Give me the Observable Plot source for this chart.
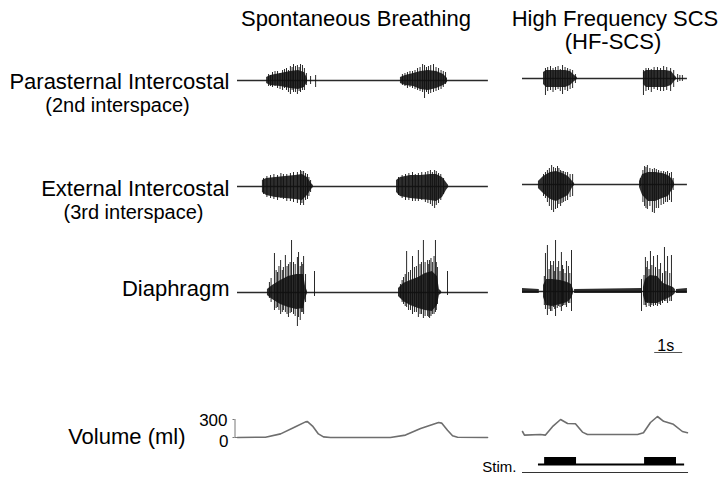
<!DOCTYPE html>
<html><head><meta charset="utf-8">
<script src="https://cdn.jsdelivr.net/npm/d3@7"></script>
<script src="https://cdn.jsdelivr.net/npm/@observablehq/plot@0.6"></script>
<style>html,body{margin:0;padding:0;background:#fff}#chart svg{display:block}</style>
</head><body><div id="chart"></div>
<script>
// ---------------- DATA ----------------
const muscles = ["Parasternal Intercostal", "External Intercostal", "Diaphragm"];
const muscleSub = ["(2nd interspace)", "(3rd interspace)"];
const conditions = ["Spontaneous Breathing", "High Frequency SCS"];
const conditionSub = "(HF-SCS)";
const volumeLabel = "Volume (ml)";
const volumeTicks = [0, 300];
const stimLabel = "Stim.";
const scaleBarLabel = "1s";
const scaleBarSeconds = 1;
const panelDuration = [8.96, 5.89]; // seconds of recording shown in each panel

// EMG burst envelopes (dense core): per burst, [time s, upper a.u., lower a.u.]
const paraSpontEnv = [
  [[1.04,3,3],[1.18,5,5],[1.54,7,6],[1.89,9,8],[2.18,10,9],[2.39,8,7],[2.5,2,2]],
  [[5.82,3,3],[6.0,5,5],[6.29,7,6],[6.54,9,9],[6.82,10,10],[7.11,9,8],[7.36,6,5],[7.5,2,2]]
];
const paraHfEnv = [
  [[0.75,6,6],[0.86,8,9],[1.18,8,9],[1.54,8,9],[1.71,7,7],[1.86,3,3],[1.96,1,1]],
  [[4.32,6,6],[4.43,8,9],[4.75,8,9],[5.11,8,9],[5.32,7,7],[5.43,3,3],[5.5,1,1]]
];
const extSpontEnv = [
  [[0.89,6,6],[1.04,8,9],[1.36,9,11],[1.71,10,12],[2.07,11,13],[2.32,12,14],[2.5,9,9],[2.64,3,3],[2.71,1,1]],
  [[5.68,6,6],[5.82,9,10],[6.18,11,12],[6.54,11,13],[6.89,12,14],[7.11,12,15],[7.32,9,11],[7.46,4,4],[7.54,1,1]]
];
const extHfEnv = [
  [[0.57,3,4],[0.75,8,9],[1.0,12,15],[1.21,13,17],[1.43,11,14],[1.64,8,11],[1.79,3,3],[1.86,1,1]],
  [[4.18,3,3],[4.29,10,11],[4.5,12,17],[4.75,12,17],[5.0,11,14],[5.21,9,12],[5.36,5,5],[5.43,1,1]]
];
const diaSpontEnv = [
  [[1.07,3,3],[1.25,7,7],[1.54,12,12],[1.82,16,15],[2.11,18,17],[2.36,18,16],[2.43,6,6],[2.5,1,1]],
  [[5.75,4,4],[5.93,9,9],[6.18,12,13],[6.46,15,16],[6.71,19,18],[6.96,21,19],[7.14,16,13],[7.21,3,3],[7.29,1,1]]
];
const diaHfEnv = [
  [[0,3,2],[0.6,2,2]],
  [[0.75,6,6],[0.86,12,14],[1.07,12,15],[1.36,11,13],[1.61,9,11],[1.75,7,7],[1.82,2,2]],
  [[1.86,2,2],[4.28,3,2]],
  [[4.32,4,4],[4.39,12,11],[4.57,16,12],[4.82,15,12],[5.04,8,9],[5.21,6,7],[5.39,4,4],[5.46,2,2]],
  [[5.5,2,2],[5.89,3,2]]
];

// EMG individual spikes: [time s, upper a.u., lower a.u.]
const paraSpontSpikes = [[1.11,6,6],[1.18,5,6],[1.25,8,7],[1.34,9,6],[1.43,9,8],[1.52,7,9],[1.61,10,10],[1.68,11,8],[1.75,12,10],[1.82,10,12],[1.89,14,14],[1.95,13,10],[2.0,16,12],[2.07,14,12],[2.14,15,14],[2.2,13,11],[2.25,16,12],[2.32,15,10],[2.39,12,10],[2.46,7,5],[2.61,4,4],[2.79,5,7],
  [5.89,6,5],[5.98,7,6],[6.07,8,8],[6.16,9,7],[6.25,9,8],[6.34,10,9],[6.43,12,10],[6.52,13,11],[6.61,16,12],[6.68,15,18],[6.75,13,12],[6.82,14,14],[6.9,15,13],[7.0,16,12],[7.09,13,11],[7.18,12,10],[7.27,10,9],[7.35,9,7],[7.43,8,4]];
const paraHfSpikes = [[0.82,10,17],[0.9,11,13],[1.0,12,12],[1.09,10,14],[1.18,11,12],[1.27,12,11],[1.35,9,13],[1.43,13,16],[1.52,11,12],[1.61,10,13],[1.7,9,11],[1.79,8,10],[1.89,4,5],
  [4.32,8,17],[4.41,10,13],[4.5,10,12],[4.6,9,14],[4.7,11,11],[4.82,11,12],[4.93,10,13],[5.04,12,13],[5.15,11,12],[5.29,10,13],[5.4,8,9],[5.54,4,4],[5.62,3,3],[5.71,3,3]];
const extSpontSpikes = [[0.93,8,8],[1.05,10,11],[1.18,11,12],[1.3,12,13],[1.43,11,14],[1.55,13,12],[1.64,12,13],[1.76,12,15],[1.89,13,15],[2.0,14,16],[2.14,14,17],[2.25,16,19],[2.3,15,17],[2.36,15,19],[2.43,13,14],[2.5,12,13],[2.55,9,10],[2.61,6,6],
  [5.75,9,9],[5.88,11,12],[6.0,12,14],[6.12,13,14],[6.25,14,15],[6.35,12,15],[6.46,13,15],[6.58,14,14],[6.71,14,16],[6.8,15,17],[6.89,16,18],[6.96,14,20],[7.04,16,22],[7.1,15,19],[7.18,13,17],[7.26,12,14],[7.36,8,8]];
const extHfSpikes = [[0.75,10,12],[0.82,12,14],[0.89,14,18],[0.96,16,22],[1.04,19,26],[1.11,17,28],[1.18,16,25],[1.25,18,24],[1.3,16,20],[1.36,14,22],[1.41,13,19],[1.46,13,18],[1.53,12,17],[1.61,12,16],[1.7,10,13],[1.79,10,12],
  [4.21,6,2],[4.3,14,18],[4.36,18,22],[4.41,17,24],[4.46,19,25],[4.55,16,22],[4.64,15,28],[4.71,16,29],[4.78,15,24],[4.86,14,24],[4.95,13,21],[5.04,13,20],[5.11,12,18],[5.18,13,18],[5.25,11,16],[5.32,12,18],[5.38,6,6]];
const diaSpontSpikes = [[1.14,10,6],[1.2,14,10],[1.32,39,18],[1.38,22,16],[1.43,20,15],[1.48,26,18],[1.54,32,22],[1.6,22,20],[1.64,25,18],[1.71,37,20],[1.77,26,22],[1.82,28,25],[1.88,30,21],[1.93,52,20],[2.0,30,22],[2.06,28,24],[2.14,35,34],[2.18,40,25],[2.24,26,28],[2.29,30,20],[2.33,28,20],[2.36,36,22],[2.43,18,10],[2.75,21,4],
  [5.82,8,6],[5.88,12,10],[5.93,15,12],[5.99,18,14],[6.04,41,15],[6.11,20,18],[6.18,22,18],[6.25,36,22],[6.32,25,20],[6.39,26,20],[6.46,42,25],[6.52,28,22],[6.57,30,22],[6.64,52,26],[6.7,30,24],[6.79,32,24],[6.83,28,25],[6.86,32,26],[6.91,34,24],[6.96,30,22],[7.02,36,22],[7.07,52,20],[7.1,30,18],[7.14,25,12],[7.5,21,3]];
const diaHfSpikes = [[0.78,15,14],[0.82,38,18],[0.89,46,24],[0.95,22,18],[1.0,30,20],[1.05,26,20],[1.11,30,16],[1.15,20,18],[1.18,51,25],[1.24,24,17],[1.29,30,15],[1.34,20,16],[1.39,39,20],[1.43,26,15],[1.46,22,14],[1.52,18,14],[1.57,30,16],[1.64,25,12],[1.69,18,12],[1.75,41,20],
  [4.25,12,20],[4.34,16,14],[4.39,34,14],[4.42,24,16],[4.46,30,12],[4.52,22,15],[4.57,40,16],[4.62,26,14],[4.68,35,15],[4.75,24,14],[4.82,36,15],[4.88,22,13],[4.93,28,14],[5.0,18,12],[5.07,44,10],[5.12,20,10],[5.18,35,12],[5.26,18,10],[5.32,36,10]];

// Lung volume (ml): [time s, volume]
const volSpont = [[0,0],[1.0,5],[1.54,60],[2.07,180],[2.43,260],[2.5,265],[2.68,190],[2.89,60],[3.07,10],[3.32,0],[5.46,0],[6.0,40],[6.54,150],[7.18,250],[7.29,240],[7.5,120],[7.68,30],[7.86,5],[8.93,0]];
const volHf = [[0,100],[0.07,40],[0.64,50],[0.82,40],[1.07,180],[1.36,300],[1.61,233],[1.89,230],[2.14,90],[2.32,50],[4.11,50],[4.32,80],[4.57,250],[4.82,350],[5.04,270],[5.39,220],[5.71,100],[5.89,80]];

// Stimulation on-periods (s) and stim trace span (s), HF-SCS panel
const stimOn = [[0.79,1.93],[4.36,5.5]];
const stimSpan = [0.57, 5.79];

// ---------------- LAYOUT ----------------
const W = 726, H = 483;
const X0 = 237, X1 = 688, PX_PER_S = 28;
const panelStart = [0, (522 - X0) / PX_PER_S];
const panelMid = [0, 1].map(p => panelStart[p] + panelDuration[p] / 2);
const rowBase = [[80, 78], [186, 184], [292, 291]];
const volBase = 437, volGain = 18 / 300;
const stimBase = 464, stimHeight = 7, stimAxisY = 472;
const scaleBarStart = 14.9, scaleBarY = 352;
const font = "Liberation Sans, Arial, Helvetica, sans-serif";
const txt = {fill: "#000", lineAnchor: "bottom"};

const envs = [[paraSpontEnv, paraHfEnv], [extSpontEnv, extHfEnv], [diaSpontEnv, diaHfEnv]];
const spikes = [[paraSpontSpikes, paraHfSpikes], [extSpontSpikes, extHfSpikes], [diaSpontSpikes, diaHfSpikes]];

const envRows = [], spikeRows = [], baseRows = [];
envs.forEach((pair, m) => pair.forEach((bursts, p) => {
  const base = rowBase[m][p];
  baseRows.push({x1: panelStart[p], x2: panelStart[p] + panelDuration[p], y: base, m});
  bursts.forEach((b, k) => b.forEach(([t, up, lo]) =>
    envRows.push({key: `${m}-${p}-${k}`, x: panelStart[p] + t, y1: base - up, y2: base + lo})));
  spikes[m][p].forEach(([t, up, lo]) =>
    spikeRows.push({x: panelStart[p] + t, y1: base - up, y2: base + lo}));
}));

const volRows = [];
[volSpont, volHf].forEach((v, p) => v.forEach(([t, ml]) =>
  volRows.push({p, x: panelStart[p] + t, y: volBase - ml * volGain})));

const stimRows = stimOn.map(([a, b]) => ({x1: panelStart[1] + a, x2: panelStart[1] + b, y1: stimBase - stimHeight, y2: stimBase}));

const plot = Plot.plot({
  width: W, height: H,
  marginLeft: 0, marginRight: 0, marginTop: 0, marginBottom: 0,
  style: {fontFamily: font, background: "#fff", color: "#000"},
  x: {domain: [0, (X1 - X0) / PX_PER_S], range: [X0, X1], axis: null},
  y: {domain: [0, H], range: [0, H], axis: null},
  marks: [
    // EMG baselines
    Plot.ruleY(baseRows, {x1: "x1", x2: "x2", y: "y", stroke: "#2a2a2a", strokeWidth: 1.5}),
    // burst envelopes
    Plot.areaY(envRows, {x: "x", y1: "y1", y2: "y2", z: "key", fill: "#111", fillOpacity: 0.88}),
    // individual spikes
    Plot.ruleX(spikeRows, {x: "x", y1: "y1", y2: "y2", stroke: "#111", strokeWidth: 0.9}),
    // volume traces
    Plot.line(volRows, {x: "x", y: "y", z: "p", stroke: "#6e6e6e", strokeWidth: 1.6}),
    // volume calibration bracket
    Plot.ruleX([-2.5 / PX_PER_S], {y1: volBase - 300 * volGain, y2: volBase, stroke: "#777", strokeWidth: 1}),
    Plot.ruleY(volumeTicks, {y: d => volBase - d * volGain, x1: -4.5 / PX_PER_S, x2: -2.5 / PX_PER_S, stroke: "#777", strokeWidth: 1}),
    Plot.ruleY([0], {y: volBase, x1: -2.5 / PX_PER_S, x2: 0, stroke: "#777", strokeWidth: 1}),
    Plot.text([volumeTicks[1]], {...txt, x: 0, y: 425, text: d => String(d), textAnchor: "end", dx: -10, fontSize: 17}),
    Plot.text([volumeTicks[0]], {...txt, x: 0, y: 446, text: d => String(d), textAnchor: "end", dx: -9, fontSize: 17}),
    // stimulation trace
    Plot.rect(stimRows, {x1: "x1", x2: "x2", y1: "y1", y2: "y2", fill: "#000"}),
    Plot.ruleY([stimBase], {x1: panelStart[1] + stimSpan[0], x2: panelStart[1] + stimSpan[1], stroke: "#000", strokeWidth: 2}),
    Plot.ruleY([stimAxisY], {x1: panelStart[1], x2: panelStart[1] + panelDuration[1] + 0.04, stroke: "#333", strokeWidth: 1}),
    Plot.text([stimLabel], {...txt, x: panelStart[1], y: 471, textAnchor: "end", dx: -6, fontSize: 15}),
    // time scale bar
    Plot.ruleY([scaleBarY], {x1: scaleBarStart, x2: scaleBarStart + scaleBarSeconds, stroke: "#555", strokeWidth: 1}),
    Plot.text([scaleBarLabel], {...txt, x: scaleBarStart + scaleBarSeconds / 2, y: 350, textAnchor: "middle", dx: -3, fontSize: 16}),
    // panel titles
    Plot.text([conditions[0]], {...txt, x: panelMid[0], y: 25, dx: -7, textAnchor: "middle", fontSize: 22}),
    Plot.text([conditions[1]], {...txt, x: panelMid[1], y: 25, dx: 10, textAnchor: "middle", fontSize: 22}),
    Plot.text([conditionSub], {...txt, x: panelMid[1], y: 48, dx: 8, textAnchor: "middle", fontSize: 22}),
    // muscle labels
    Plot.text(muscles, {...txt, x: 0, y: (d, i) => [88, 195, 295][i], dx: -8, textAnchor: "end", fontSize: 22}),
    Plot.text([muscleSub[0]], {...txt, x: 0, y: 111, dx: -120, textAnchor: "middle", fontSize: 20}),
    Plot.text([muscleSub[1]], {...txt, x: 0, y: 218, dx: -104, textAnchor: "middle", fontSize: 20}),
    Plot.text([volumeLabel], {...txt, x: 0, y: 443, dx: -52, textAnchor: "end", fontSize: 22})
  ]
});
document.getElementById("chart").appendChild(plot);
</script>
</body></html>
